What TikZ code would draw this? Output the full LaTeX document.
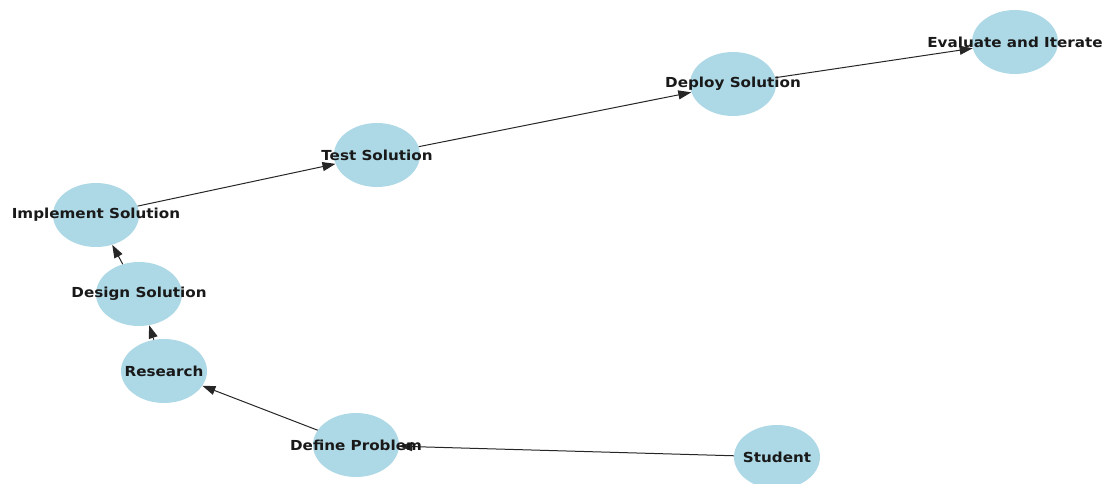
\documentclass[tikz,border=0pt]{standalone}
\usepackage{fontspec}
\newfontfamily\lblfont[FakeStretch=1.1]{DejaVu Sans Bold}
\usetikzlibrary{arrows.meta,shapes.geometric}
\definecolor{nodeblue}{RGB}{173,216,230}
\begin{document}
\begin{tikzpicture}[x=1pt,y=-1pt,
  nd/.style={ellipse,fill=nodeblue,minimum width=86pt,minimum height=64pt,inner sep=0pt},
  lbl/.style={font=\lblfont\fontsize{13.8}{15}\selectfont,text=black!90,inner sep=0pt},
  edge/.style={draw=black!85,line width=1pt,-{Triangle[length=13pt,width=9pt]}}]
\useasboundingbox (0,0) rectangle (1105,484);
\node[nd] (ev) at (1015,42) {};
\node[nd] (de) at (733,84) {};
\node[nd] (te) at (377,155) {};
\node[nd] (im) at (96,215) {};
\node[nd] (ds) at (139,294) {};
\node[nd] (re) at (164,371) {};
\node[nd] (dp) at (356,445) {};
\node[nd] (st) at (777,457) {};
\draw[edge] (st) -- (dp);
\draw[edge] (dp) -- (re);
\draw[edge] (re) -- (ds);
\draw[edge] (ds) -- (im);
\draw[edge] (im) -- (te);
\draw[edge] (te) -- (de);
\draw[edge] (de) -- (ev);
\node[lbl] (evl) at (ev) {Evaluate and Iterate};
\node[lbl] (del) at (de) {Deploy Solution};
\node[lbl] (tel) at (te) {Test Solution};
\node[lbl] (iml) at (im) {Implement Solution};
\node[lbl] (dsl) at (ds) {Design Solution};
\node[lbl] (rel) at (re) {Research};
\node[lbl] (dpl) at (dp) {Define Problem};
\node[lbl] (stl) at (st) {Student};
\end{tikzpicture}
\end{document}
